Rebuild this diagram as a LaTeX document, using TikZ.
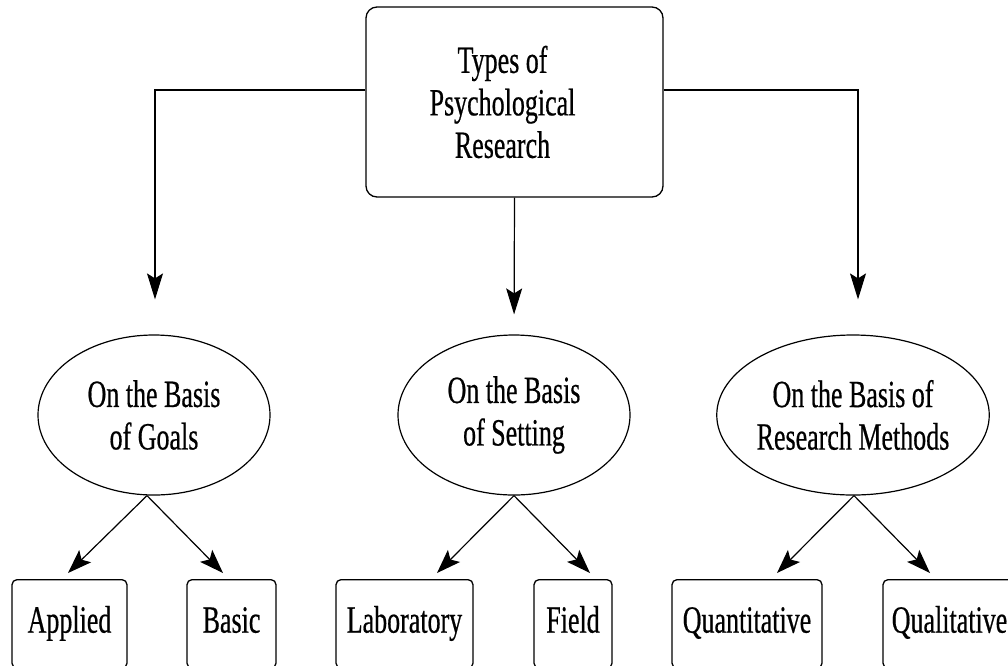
\documentclass[tikz,border=0pt]{standalone}
\usepackage{fontspec}
\setmainfont{Liberation Serif}[FakeStretch=0.675,FakeBold=0.5]
\usetikzlibrary{shapes.geometric,arrows.meta}
\begin{document}
\begin{tikzpicture}[x=1pt,y=-1pt,
  every node/.style={font=\fontsize{38.5}{42.5}\selectfont},
  topbox/.style={draw, line width=1.3pt, rounded corners=11pt, minimum width=297pt, minimum height=190pt, inner sep=0pt},
  basis/.style={draw, ellipse, line width=1.2pt, minimum width=232pt, minimum height=160pt, inner sep=0pt, align=center},
  leaf/.style={draw, line width=1.3pt, rounded corners=5pt, anchor=north, text height=26pt, text depth=8.5pt, inner ysep=27pt, inner xsep=0pt},
  conn/.style={line width=1.2pt, -{Stealth[length=26pt,width=16pt,inset=5pt]}},
  subconn/.style={line width=1.2pt, -{Stealth[length=24pt,width=17pt,inset=5pt]}},
]
\useasboundingbox (0,0) rectangle (1008,665);
\clip (0,0) rectangle (1008,665);
\fill[white] (0,0) rectangle (1008,665);

\node[topbox, label={[align=center, xshift=-12pt]center:Types of\\Psychological\\Research}] (top) at (514.5,102) {};

\node[basis] (goals) at (154,415) {On the Basis\\of Goals};
\node[basis] (setting) at (514,415) {On the Basis\\of Setting};
\node[basis] (methods) at (853,415) {On the Basis of\\Research Methods};

\node[leaf, minimum width=115pt] (applied) at (69.5,579) {Applied};
\node[leaf, minimum width=89pt] (basic) at (231.5,579) {Basic};
\node[leaf, minimum width=137pt] (lab) at (404.5,579) {Laboratory};
\node[leaf, minimum width=78pt] (field) at (573,579) {Field};
\node[leaf, minimum width=150pt] (quant) at (747,579) {Quantitative};
\node[leaf, minimum width=133pt] (qual) at (949.5,579) {Qualitative};

\draw[conn, shorten >=35pt] ([yshift=12pt]top.west) -| ([xshift=1pt]goals.north);
\draw[conn, shorten >=20pt] (top.south) -- (setting.north);
\draw[conn, shorten >=35pt] ([yshift=12pt]top.east) -| ([xshift=5pt]methods.north);

\draw[subconn] ([xshift=-7pt]goals.south) -- ([xshift=-1.5pt,yshift=6pt]applied.north);
\draw[subconn] ([xshift=-7pt]goals.south) -- ([xshift=-8.5pt,yshift=6pt]basic.north);
\draw[subconn] (setting.south) -- ([xshift=32.5pt,yshift=6pt]lab.north);
\draw[subconn] (setting.south) -- ([xshift=17pt,yshift=6pt]field.north);
\draw[subconn] ([xshift=1pt]methods.south) -- ([xshift=30pt,yshift=6pt]quant.north);
\draw[subconn] ([xshift=1pt]methods.south) -- ([xshift=-19.5pt,yshift=6pt]qual.north);
\end{tikzpicture}
\end{document}
